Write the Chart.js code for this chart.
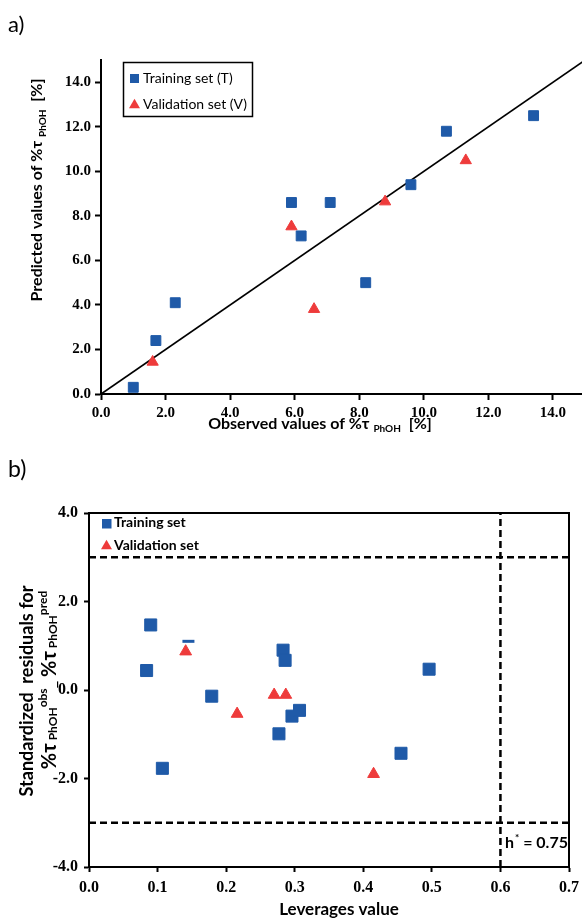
<!DOCTYPE html>
<html>
<head>
<meta charset="utf-8">
<script src="https://cdn.jsdelivr.net/npm/chart.js@4.4.1/dist/chart.umd.min.js"></script>
<style>
  body { margin: 0; background: #fff; }
  canvas { display: block; }
</style>
</head>
<body>
<canvas id="chartA" width="582" height="450"></canvas>
<canvas id="chartB" width="582" height="472"></canvas>
<script>
// ---- a) observed vs predicted ----
const trainObs  = [1.0, 1.7, 2.3, 5.9, 6.2, 7.1, 8.2, 9.6, 10.7, 13.4];
const trainPred = [0.3, 2.4, 4.1, 8.6, 7.1, 8.6, 5.0, 9.4, 11.8, 12.5];
const validObs  = [1.6, 5.9, 6.6, 8.8, 11.3];
const validPred = [1.44, 7.52, 3.81, 8.64, 10.49];
const idealX = [0, 15];
const idealY = [0, 15];
const ticksA = [0, 2, 4, 6, 8, 10, 12, 14];

// ---- b) Williams plot ----
const trainLev = [0.090, 0.084, 0.179, 0.107, 0.277, 0.283, 0.286, 0.296, 0.307, 0.455, 0.496];
const trainRes = [1.47, 0.44, -0.14, -1.77, -0.99, 0.90, 0.67, -0.59, -0.46, -1.43, 0.47];
const validLev = [0.141, 0.270, 0.287, 0.216, 0.415];
const validRes = [0.87, -0.11, -0.11, -0.54, -1.90];
const dashLev = [0.145];
const dashRes = [1.10];
const resLimit = 3;
const hLine = 0.6;
const ticksBx = [0, 0.1, 0.2, 0.3, 0.4, 0.5, 0.6, 0.7];
const ticksBy = [-4, -2, 0, 2, 4];

const BLUE = '#1f5aa8';
const RED = '#ee3b3b';
const SANS = 'Lato, "Open Sans", sans-serif';
const SERIF = '"Liberation Serif", "DejaVu Serif", serif';

const pts = (xs, ys) => xs.map((x, i) => ({ x: x, y: ys[i] }));

// draw text made of parts [text, size, dy], centred on (x, y) baseline
function richText(ctx, parts, x, y, angle, weight) {
  ctx.save();
  ctx.translate(x, y);
  ctx.rotate(angle);
  ctx.textAlign = 'left';
  ctx.textBaseline = 'alphabetic';
  let w = 0;
  parts.forEach(p => { ctx.font = `${weight} ${p[1]}px ${SANS}`; w += ctx.measureText(p[0]).width; });
  let cx = -w / 2;
  parts.forEach(p => {
    ctx.font = `${weight} ${p[1]}px ${SANS}`;
    ctx.fillText(p[0], cx, p[2] || 0);
    cx += ctx.measureText(p[0]).width;
  });
  ctx.restore();
}

function tri(ctx, cx, cy, w) {
  const h = w * 0.87;
  ctx.beginPath();
  ctx.moveTo(cx, cy - h / 2);
  ctx.lineTo(cx + w / 2, cy + h / 2);
  ctx.lineTo(cx - w / 2, cy + h / 2);
  ctx.closePath();
  ctx.fill();
}

function axisOpts(min, max, ticks, size, tickLen, pad, digits) {
  return {
    type: 'linear', min: min, max: max,
    afterBuildTicks: s => { s.ticks = ticks.map(v => ({ value: v })); },
    grid: { drawOnChartArea: false, drawTicks: true, tickLength: tickLen, tickColor: '#000', tickWidth: 2 },
    border: { display: true, color: '#000', width: 2 },
    ticks: {
      autoSkip: false, maxRotation: 0, padding: pad, color: '#000',
      font: { family: SERIF, size: size, weight: 'bold' },
      callback: v => v.toFixed(digits)
    }
  };
}

Chart.defaults.animation = false;
Chart.defaults.plugins.legend.display = false;
Chart.defaults.plugins.tooltip.enabled = false;

// ---------- chart a ----------
const xA = axisOpts(0, 14.9, ticksA, 15, 6, 4, 1);
xA.afterFit = s => { s.height = 56; s.paddingLeft = 0; s.paddingRight = 0; };
const yA = axisOpts(0, 15, ticksA, 15, 6, 4, 1);
yA.afterFit = s => { s.width = 101; };

const annotA = {
  id: 'annotA',
  afterDraw(chart) {
    const ctx = chart.ctx;
    ctx.save();
    ctx.fillStyle = '#000';
    ctx.font = `22px ${SANS}`;
    ctx.fillText('a)', 8, 32);
    richText(ctx, [['Observed values of %τ ', 16], ['PhOH', 10, 3], ['  [%]', 16]], 320, 429, 0, 'bold');
    richText(ctx, [['Predicted values of %τ ', 16], ['PhOH', 10, 4], ['  [%]', 16]], 42, 190, -Math.PI / 2, 'bold');
    // legend
    ctx.strokeStyle = '#000';
    ctx.lineWidth = 1.5;
    ctx.strokeRect(123.5, 62.5, 129, 54);
    ctx.fillStyle = BLUE;
    ctx.fillRect(130, 74, 9, 9);
    ctx.fillStyle = RED;
    tri(ctx, 134.5, 103.5, 11);
    ctx.fillStyle = '#000';
    ctx.font = `14px ${SANS}`;
    ctx.fillText('Training set (T)', 143, 83);
    ctx.fillText('Validation set (V)', 143, 109);
    ctx.restore();
  }
};

new Chart(document.getElementById('chartA'), {
  type: 'scatter',
  data: {
    datasets: [
      { label: 'Training set (T)', data: pts(trainObs, trainPred), pointStyle: 'rect', pointRadius: 7,
        backgroundColor: BLUE, borderColor: BLUE, borderWidth: 1 },
      { label: 'Validation set (V)', data: pts(validObs, validPred), pointStyle: 'triangle', pointRadius: 6.5,
        backgroundColor: RED, borderColor: RED, borderWidth: 1 },
      { label: 'y = x', data: pts(idealX, idealY), showLine: true, pointRadius: 0,
        borderColor: '#000', borderWidth: 1.8 }
    ]
  },
  options: {
    responsive: false,
    layout: { autoPadding: false, padding: { top: 60, left: 0, right: 0, bottom: 0 } },
    scales: { x: xA, y: yA }
  },
  plugins: [annotA]
});

// ---------- chart b ----------
const xB = axisOpts(0, 0.7, ticksBx, 16, 5, 6, 1);
xB.afterFit = s => { s.height = 55; s.paddingLeft = 0; s.paddingRight = 0; };
const yB = axisOpts(-4, 4, ticksBy, 16, 5, 6, 1);
yB.afterFit = s => { s.width = 89; };

const annotB = {
  id: 'annotB',
  afterDraw(chart) {
    const ctx = chart.ctx;
    const a = chart.chartArea;
    ctx.save();
    ctx.strokeStyle = '#000';
    ctx.lineWidth = 2;
    ctx.strokeRect(a.left, a.top, a.right - a.left, a.bottom - a.top);
    ctx.fillStyle = '#000';
    ctx.font = `23px ${SANS}`;
    ctx.fillText('b)', 8, 27);
    richText(ctx, [['Leverages value', 17]], 339, 465, 0, 'bold');
    richText(ctx, [['Standardized  residuals for', 18]], 33, 241, -Math.PI / 2, 'bold');
    richText(ctx, [['%τ', 20], [' PhOH', 12, 1], ['obs', 12, -9], ['_ ', 16], ['%τ', 20], [' PhOH', 12, 1], ['pred', 12, -9]],
      56, 230, -Math.PI / 2, 'bold');
    // legend
    ctx.fillStyle = BLUE;
    ctx.fillRect(102, 69, 9.5, 9.5);
    ctx.fillStyle = RED;
    tri(ctx, 106.5, 94.5, 11);
    ctx.fillStyle = '#000';
    ctx.font = `bold 14px ${SANS}`;
    ctx.fillText('Training set', 114, 77);
    ctx.fillText('Validation set', 114, 100);
    // h* label
    ctx.textAlign = 'left';
    ctx.font = `bold 16px ${SANS}`;
    ctx.fillText('h', 505, 398);
    let hx = 505 + ctx.measureText('h').width;
    ctx.font = `bold 10px ${SANS}`;
    ctx.fillText('*', hx + 1, 391);
    hx += 1 + ctx.measureText('*').width;
    ctx.font = `bold 16px ${SANS}`;
    ctx.fillText(' = 0.75', hx, 398);
    ctx.restore();
  }
};

const dashLine = { showLine: true, pointRadius: 0, borderColor: '#000', borderWidth: 2.5, borderDash: [7, 4] };

new Chart(document.getElementById('chartB'), {
  type: 'scatter',
  data: {
    datasets: [
      { label: 'Training set', data: pts(trainLev, trainRes), pointStyle: 'rect', pointRadius: 8.5,
        backgroundColor: BLUE, borderColor: BLUE, borderWidth: 1 },
      { label: 'Validation set', data: pts(validLev, validRes), pointStyle: 'triangle', pointRadius: 6.8,
        backgroundColor: RED, borderColor: RED, borderWidth: 1 },
      { label: 'mark', data: pts(dashLev, dashRes), pointStyle: 'line', pointRadius: 6,
        borderColor: BLUE, borderWidth: 3 },
      Object.assign({ label: 'upper', data: pts([0, 0.7], [resLimit, resLimit]) }, dashLine),
      Object.assign({ label: 'lower', data: pts([0, 0.7], [-resLimit, -resLimit]) }, dashLine),
      Object.assign({ label: 'h*', data: pts([hLine, hLine], [-4, 4]) }, dashLine)
    ]
  },
  options: {
    responsive: false,
    layout: { autoPadding: false, padding: { top: 63, left: 0, right: 13, bottom: 0 } },
    scales: { x: xB, y: yB }
  },
  plugins: [annotB]
});
</script>
</body>
</html>
